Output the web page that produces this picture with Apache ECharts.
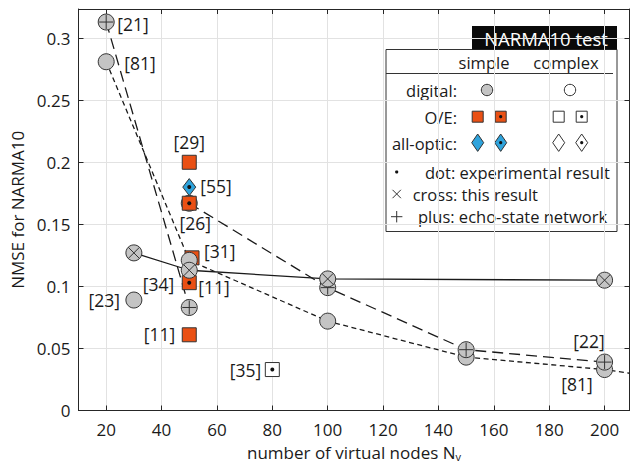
<!DOCTYPE html>
<html><head><meta charset="utf-8">
<script src="https://cdn.jsdelivr.net/npm/echarts@6/dist/echarts.min.js"></script>
<style>html,body{margin:0;padding:0;background:#fff}#c{width:630px;height:464px}</style>
</head><body><div id="c"></div>
<script>
// ---------- data ----------
const xTicks = [20, 40, 60, 80, 100, 120, 140, 160, 180, 200];
const yTicks = [0, 0.05, 0.1, 0.15, 0.2, 0.25, 0.3];

// digital, simple (grey circle)
const digitalX = [20, 30, 50, 50, 100, 150, 200];
const digitalY = [0.281, 0.089, 0.121, 0.167, 0.072, 0.043, 0.033];
// echo-state network (grey circle with plus)
const esnX = [20, 50, 100, 150, 200];
const esnY = [0.313, 0.083, 0.099, 0.049, 0.039];
// this result (grey circle with cross)
const crossX = [30, 50, 100, 200];
const crossY = [0.127, 0.113, 0.106, 0.105];
// O/E simple (orange square)
const oeX = [50, 51, 50];
const oeY = [0.200, 0.123, 0.061];
// O/E simple experimental (orange square with dot)
const oeDotX = [50, 50];
const oeDotY = [0.167, 0.103];
// all-optic simple experimental (blue diamond with dot)
const aoDotX = [50];
const aoDotY = [0.180];
// O/E complex experimental (white square with dot)
const oeCplxDotX = [80];
const oeCplxDotY = [0.033];

// connecting lines
const line81X = [20, 50, 100, 150, 200, 209];
const line81Y = [0.281, 0.121, 0.072, 0.043, 0.033, 0.030];
const line21X = [20, 50];
const line21Y = [0.313, 0.083];
const line22X = [50, 100, 150, 200];
const line22Y = [0.167, 0.099, 0.049, 0.039];

// reference labels
const refText = ['[21]', '[81]', '[29]', '[55]', '[26]', '[31]', '[34]', '[11]', '[23]', '[11]', '[35]', '[22]', '[81]'];
const refX = [20, 20, 50, 50, 50, 51, 50, 50, 30, 50, 80, 200, 200];
const refY = [0.313, 0.281, 0.200, 0.180, 0.167, 0.123, 0.103, 0.103, 0.089, 0.061, 0.033, 0.039, 0.033];

// ---------- layout / style ----------
const refLayout = [[11, 2, 'left'], [18, 1, 'left'], [0, -20, 'center'], [11, -1.5, 'left'], [6, 19.5, 'center'],
  [12, -7, 'left'], [-15, 1, 'right'], [9, 4.5, 'left'], [-14, 0, 'right'], [-14, -1, 'right'], [-11, 0, 'right'],
  [-15.5, -21.5, 'center'], [-27.5, 14, 'center']];

const FONT = '"Open Sans", "Noto Sans", sans-serif';
const GREY = '#c4c4c4', EDGE = '#333333', ORANGE = '#ea5014', BLUE = '#2ea3dc', INK = '#1a1a1a';

function circ(cx, cy, r, fill) { return { type: 'circle', shape: { cx, cy, r }, style: { fill, stroke: EDGE, lineWidth: 1 } }; }
function seg(x1, y1, x2, y2, w) { return { type: 'line', shape: { x1, y1, x2, y2 }, style: { stroke: EDGE, lineWidth: w || 1 } }; }
function sq(cx, cy, h, fill) { return { type: 'rect', shape: { x: cx - h, y: cy - h, width: 2 * h, height: 2 * h }, style: { fill, stroke: EDGE, lineWidth: 1 } }; }
function dia(cx, cy, hw, hh, fill) { return { type: 'polygon', shape: { points: [[cx, cy - hh], [cx + hw, cy], [cx, cy + hh], [cx - hw, cy]] }, style: { fill, stroke: EDGE, lineWidth: 1 } }; }
function dot(cx, cy, r) { return { type: 'circle', shape: { cx, cy, r: r || 2 }, style: { fill: '#111' } }; }

function drawMarker(kind, x, y) {
  const ch = [];
  if (kind === 'digital') ch.push(circ(x, y, 8, GREY));
  else if (kind === 'esn') { ch.push(circ(x, y, 8, GREY), seg(x - 7, y, x + 7, y), seg(x, y - 7, x, y + 7)); }
  else if (kind === 'cross') { const d = 5.6; ch.push(circ(x, y, 8, GREY), seg(x - d, y - d, x + d, y + d), seg(x - d, y + d, x + d, y - d)); }
  else if (kind === 'oe') ch.push(sq(x, y, 7, ORANGE));
  else if (kind === 'oeDot') ch.push(sq(x, y, 7, ORANGE), dot(x, y));
  else if (kind === 'aoDot') ch.push(dia(x, y, 6.5, 8.5, BLUE), dot(x, y));
  else if (kind === 'oeCplxDot') ch.push(sq(x, y, 7, '#ffffff'), dot(x, y));
  return { type: 'group', children: ch };
}

function markerSeries(xs, ys, kind, z) {
  return {
    type: 'custom', coordinateSystem: 'cartesian2d', z, animation: false, silent: true,
    data: xs.map((x, i) => [x, ys[i]]), encode: { x: 0, y: 1 },
    renderItem: (params, api) => { const p = api.coord([api.value(0), api.value(1)]); return drawMarker(kind, p[0], p[1]); }
  };
}
function lineSeries(xs, ys, dash, z) {
  return {
    type: 'line', z, silent: true, animation: false, symbol: 'none',
    data: xs.map((x, i) => [x, ys[i]]),
    lineStyle: { color: INK, width: 1.3, type: dash }
  };
}
const labelSeries = {
  type: 'custom', coordinateSystem: 'cartesian2d', z: 20, animation: false, silent: true,
  data: refX.map((x, i) => [x, refY[i], i]), encode: { x: 0, y: 1 },
  renderItem: (params, api) => {
    const i = api.value(2); const p = api.coord([api.value(0), api.value(1)]); const L = refLayout[i];
    return { type: 'text', x: p[0] + L[0], y: p[1] + L[1], style: { text: refText[i], fill: INK, fontSize: 17.5, fontFamily: FONT, align: L[2], verticalAlign: 'middle' } };
  }
};

const axisLineStyle = { color: '#262626', width: 1 };
function xAx(pos, main) {
  return {
    type: 'value', position: pos, min: 10, max: 209,
    axisLine: { show: true, onZero: false, lineStyle: axisLineStyle },
    axisTick: { show: true, inside: true, length: 5, customValues: xTicks, lineStyle: axisLineStyle },
    axisLabel: { show: main, customValues: xTicks, fontSize: 17, fontFamily: FONT, color: INK, margin: 10 },
    splitLine: { show: main, lineStyle: { color: '#e2e2e2', width: 1 } },
    name: main ? 'number of virtual nodes N{sub|v}' : '', nameLocation: 'middle', nameGap: 27,
    nameTextStyle: { fontSize: 17, fontFamily: FONT, color: INK, lineHeight: 20, rich: { sub: { fontSize: 11, fontFamily: FONT, color: INK, verticalAlign: 'bottom', lineHeight: 13 } } }
  };
}
function yAx(pos, main) {
  return {
    type: 'value', position: pos, min: 0, max: 0.3235,
    axisLine: { show: true, onZero: false, lineStyle: axisLineStyle },
    axisTick: { show: true, inside: true, length: 5, customValues: yTicks, lineStyle: axisLineStyle },
    axisLabel: { show: main, customValues: yTicks, fontSize: 17, fontFamily: FONT, color: INK, margin: 8 },
    splitLine: { show: main, lineStyle: { color: '#e2e2e2', width: 1 } },
    name: main ? 'NMSE for NARMA10' : '', nameLocation: 'middle', nameGap: 47,
    nameTextStyle: { fontSize: 17, fontFamily: FONT, color: INK }
  };
}

// legend (drawn as graphics)
function txt(x, y, s, size, align, fill) { return { type: 'text', x, y, style: { text: s, fontSize: size, fontFamily: FONT, fill: fill || INK, align, verticalAlign: 'middle' } }; }
const legend = [
  { type: 'rect', shape: { x: 386, y: 49.5, width: 231, height: 182 }, style: { fill: '#fff', stroke: EDGE, lineWidth: 1 } },
  { type: 'rect', shape: { x: 472, y: 26, width: 145, height: 23.5 }, style: { fill: '#0a0a0a' } },
  txt(546, 38, 'NARMA10 test', 18.5, 'center', '#ffffff'),
  txt(484, 62, 'simple', 16.5, 'center'),
  txt(566, 62, 'complex', 16.5, 'center'),
  { type: 'line', shape: { x1: 386, y1: 73.5, x2: 613, y2: 73.5 }, style: { stroke: EDGE, lineWidth: 1 } },
  txt(457, 90, 'digital:', 16.5, 'right'),
  txt(457, 117, 'O/E:', 16.5, 'right'),
  txt(457, 143, 'all-optic:', 16.5, 'right'),
  circ(487, 90, 5.7, GREY), circ(570, 90, 5.7, '#ffffff'),
  sq(477.7, 116.7, 5.5, ORANGE), sq(500.7, 116.7, 5.5, ORANGE), dot(500.7, 116.7, 1.6),
  sq(558.7, 116.7, 5.5, '#ffffff'), sq(581.7, 116.7, 5.5, '#ffffff'), dot(581.7, 116.7, 1.6),
  dia(477.7, 142.7, 6, 8.7, BLUE), dia(500.7, 142.7, 6, 8.7, BLUE), dot(500.7, 142.7, 1.6),
  dia(558.7, 142.7, 6, 8.7, '#ffffff'), dia(581.7, 142.7, 6, 8.7, '#ffffff'), dot(581.7, 142.7, 1.6),
  dot(396.7, 172, 1.6),
  txt(425, 172, 'dot: experimental result', 16.5, 'left'),
  seg(392.5, 189.8, 400.9, 198.2), seg(392.5, 198.2, 400.9, 189.8),
  txt(412.7, 194, 'cross: this result', 16.5, 'left'),
  seg(391, 216.7, 402.4, 216.7), seg(396.7, 211, 396.7, 222.4),
  txt(418, 216.7, 'plus: echo-state network', 16.5, 'left')
];

const chart = echarts.init(document.getElementById('c'), null, { renderer: 'svg', width: 630, height: 464 });
chart.setOption({
  animation: false,
  backgroundColor: '#ffffff',
  grid: { left: 78.5, right: 0.5, top: 9, bottom: 53.5, containLabel: false, outerBoundsMode: 'none' },
  xAxis: [xAx('bottom', true), xAx('top', false)],
  yAxis: [yAx('left', true), yAx('right', false)],
  series: [
    lineSeries(line81X, line81Y, [5, 3.5], 2),
    lineSeries(line21X, line21Y, [11, 6], 2),
    lineSeries(line22X, line22Y, [11, 6], 2),
    lineSeries(crossX, crossY, 'solid', 2),
    markerSeries(oeX, oeY, 'oe', 3),
    markerSeries(digitalX, digitalY, 'digital', 4),
    markerSeries(esnX, esnY, 'esn', 5),
    markerSeries(oeDotX, oeDotY, 'oeDot', 6),
    markerSeries(crossX, crossY, 'cross', 7),
    markerSeries(aoDotX, aoDotY, 'aoDot', 8),
    markerSeries(oeCplxDotX, oeCplxDotY, 'oeCplxDot', 8),
    labelSeries
  ],
  graphic: { elements: legend }
});
</script></body></html>
